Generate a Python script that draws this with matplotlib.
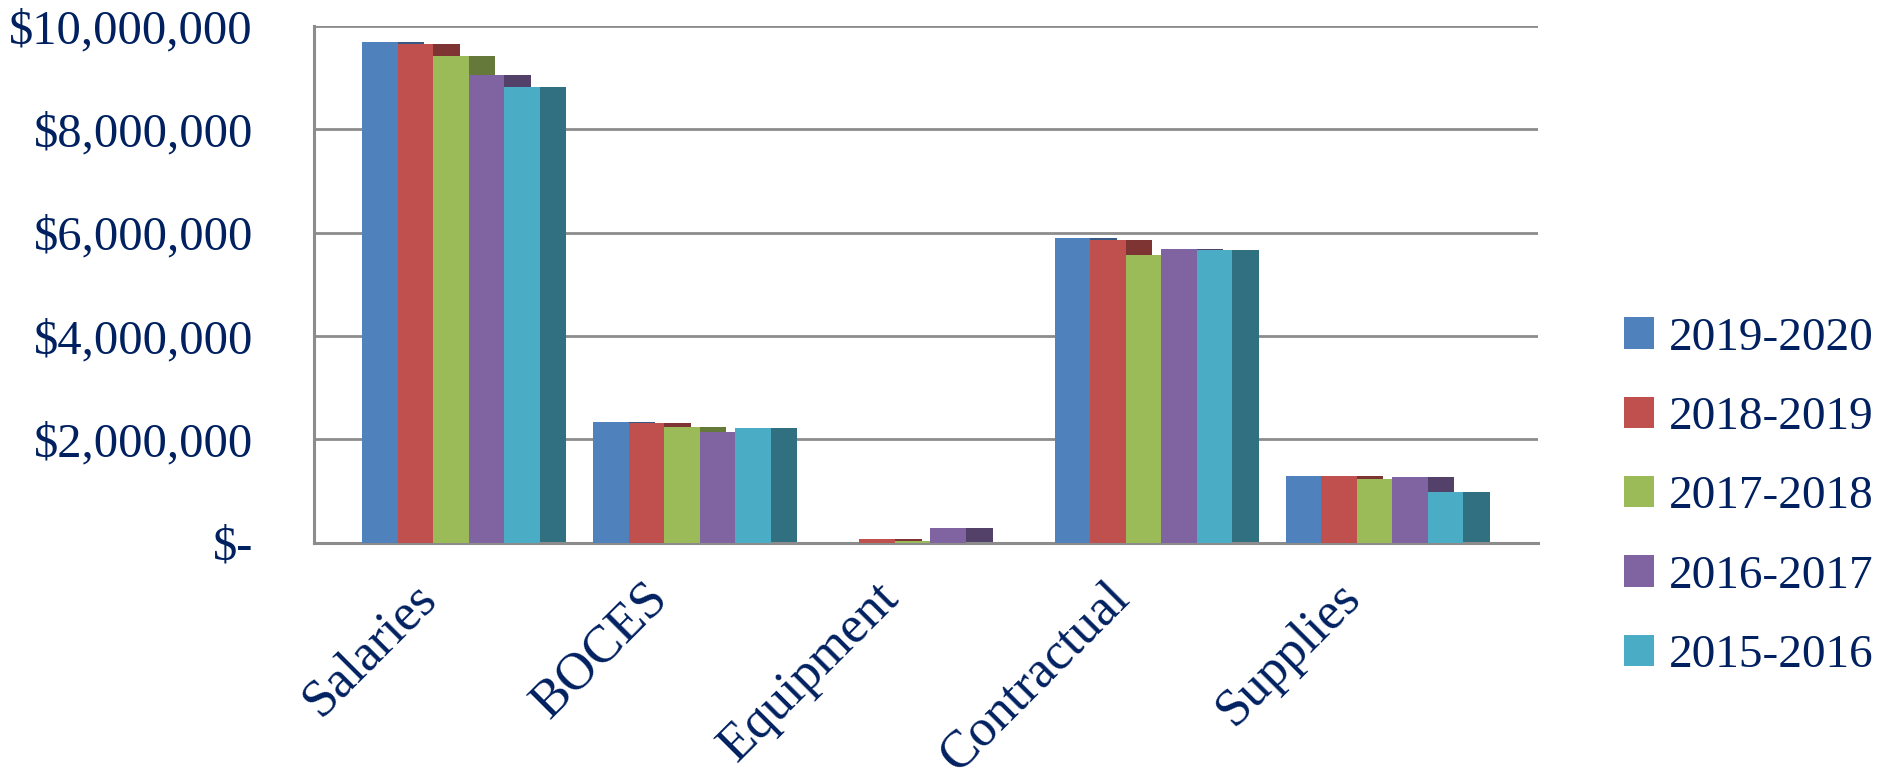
import matplotlib
matplotlib.use("Agg")
import matplotlib.pyplot as plt
import matplotlib.transforms as mtransforms
from matplotlib.patches import Patch
from matplotlib.ticker import FuncFormatter
import numpy as np

# Category and series data
categories = ['Salaries', 'BOCES', 'Equipment', 'Contractual', 'Supplies']
years = ['2019-2020', '2018-2019', '2017-2018', '2016-2017', '2015-2016']
v2019_2020 = [9700000, 2335000, 0, 5900000, 1290000]
v2018_2019 = [9660000, 2315000, 65000, 5850000, 1300000]
v2017_2018 = [9420000, 2240000, 40000, 5570000, 1230000]
v2016_2017 = [9050000, 2150000, 280000, 5675000, 1280000]
v2015_2016 = [8820000, 2220000, 0, 5660000, 990000]
series = [v2019_2020, v2018_2019, v2017_2018, v2016_2017, v2015_2016]

front_colors = ['#4F81BD', '#C0504D', '#9BBB59', '#8064A2', '#4BACC6']
side_colors = ['#375A84', '#7D3432', '#657A3A', '#534169', '#317081']
text_color = '#002060'
grid_color = '#8C8C8C'

plt.rcParams['font.family'] = ['Liberation Serif', 'DejaVu Serif']

fig = plt.figure(figsize=(18.81, 7.82), dpi=100)
ax = fig.add_axes([314 / 1881, 1 - 542.7 / 782, (1538 - 314) / 1881, (542.7 - 26) / 782])

front_w = 0.1537
side_w = 0.115
x = np.arange(len(categories))

# 3D-look columns: darker side face sits behind the next series' front face
for k, vals in enumerate(series):
    ax.bar(x + (k + 1) * front_w, vals, width=side_w, align='edge',
           color=side_colors[k], zorder=2, linewidth=0)
for k, vals in enumerate(series):
    ax.bar(x + k * front_w, vals, width=front_w, align='edge',
           color=front_colors[k], zorder=3, linewidth=0)

ax.set_xlim(-0.208, len(categories) - 1 + 5 * front_w + side_w + 0.208)
ax.set_ylim(0, 10000000)
ax.set_yticks(np.arange(0, 10000001, 2000000))


def money(v, pos):
    if v == 0:
        return '$-'
    return '${:,.0f}'.format(v)


ax.yaxis.set_major_formatter(FuncFormatter(money))
ax.grid(axis='y', color=grid_color, linewidth=2.0, zorder=1)
ax.set_axisbelow(True)

for s in ['top', 'right']:
    ax.spines[s].set_visible(False)
ax.spines['left'].set_color(grid_color)
ax.spines['left'].set_linewidth(2.2)
ax.spines['bottom'].set_color(grid_color)
ax.spines['bottom'].set_linewidth(2.2)

ax.tick_params(axis='y', length=0, pad=44, labelsize=35, labelcolor=text_color)
ax.tick_params(axis='x', length=0, pad=22, labelsize=38, labelcolor=text_color)

ax.set_xticks(x + (5 * front_w + side_w) / 2)
ax.set_xticklabels(categories, rotation=45, ha='right', va='top')
shift = mtransforms.ScaledTranslation(-18 / 100, 0, fig.dpi_scale_trans)
for lbl in ax.get_xticklabels():
    lbl.set_transform(lbl.get_transform() + shift)

handles = [Patch(facecolor=c, edgecolor='none') for c in front_colors]
fig.legend(handles, years, loc='center left', bbox_to_anchor=(1624 / 1881, 1 - 497 / 782),
           frameon=False, fontsize=34, labelcolor=text_color, handlelength=0.64,
           handleheight=0.64, handletextpad=0.3, labelspacing=0.78,
           borderpad=0, borderaxespad=0)

fig.savefig('out.png', dpi=100)
